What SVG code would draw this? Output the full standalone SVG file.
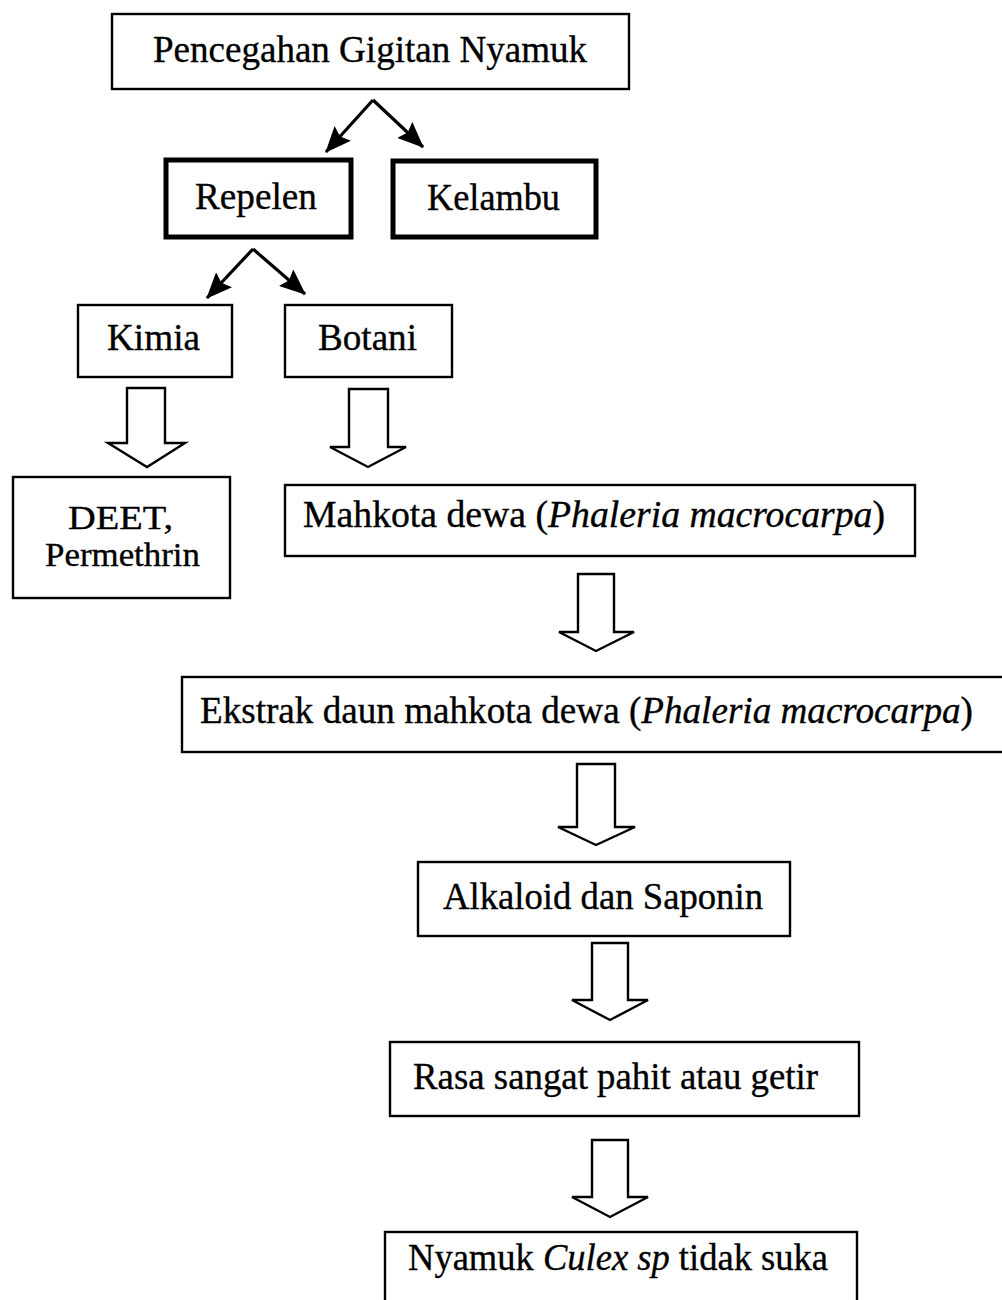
<svg xmlns="http://www.w3.org/2000/svg" width="1002" height="1300" viewBox="0 0 1002 1300">
<style>
  .box { fill: #fff; stroke: #000; stroke-width: 2.4; }
  .thick { fill: #fff; stroke: #000; stroke-width: 5; }
  .t { font-family: "Liberation Serif", "Times New Roman", serif; font-size: 37px; fill: #000; stroke: #000; stroke-width: 0.35; }
  .s { font-size: 34px; }
  .i { font-style: italic; }
  .blk { fill: #fff; stroke: #000; stroke-width: 2.4; stroke-linejoin: miter; }
  .ln { stroke: #000; stroke-width: 3.2; fill: none; }
</style>
<defs>
  <marker id="ah" markerUnits="userSpaceOnUse" markerWidth="26" markerHeight="22" refX="25" refY="11" orient="auto">
    <path d="M0,0 L26,11 L0,22 L4,11 z" fill="#000"/>
  </marker>
</defs>
<rect width="1002" height="1300" fill="#fff"/>

<g id="connectors">
  <line class="ln" x1="373" y1="100" x2="326" y2="152" marker-end="url(#ah)"/>
  <line class="ln" x1="373" y1="100" x2="423" y2="147" marker-end="url(#ah)"/>
  <line class="ln" x1="253" y1="249" x2="207" y2="298" marker-end="url(#ah)"/>
  <line class="ln" x1="253" y1="249" x2="305" y2="294" marker-end="url(#ah)"/>
  <polygon class="blk" points="127,388 165,388 165,443 185,443 147,467 108,443 127,443"/>
  <polygon class="blk" points="349,389 388,389 388,447 406,447 368,467 330,447 349,447"/>
  <polygon class="blk" points="578,574 614,574 614,632 634,632 596,651 559,632 578,632"/>
  <polygon class="blk" points="577,764 615,764 615,827 635,827 596,845 558,827 577,827"/>
  <polygon class="blk" points="592,943 628,943 628,1000 648,1000 610,1020 572,1000 592,1000"/>
  <polygon class="blk" points="592,1140 628,1140 628,1197 648,1197 610,1217 572,1197 592,1197"/>
</g>

<g id="n-pencegahan">
  <rect class="box" x="112" y="14" width="517" height="75"/>
  <text class="t" x="153" y="62" textLength="434" lengthAdjust="spacingAndGlyphs">Pencegahan Gigitan Nyamuk</text>
</g>
<g id="n-repelen">
  <rect class="thick" x="166" y="160" width="185" height="77"/>
  <text class="t" x="195" y="209" textLength="122" lengthAdjust="spacingAndGlyphs">Repelen</text>
</g>
<g id="n-kelambu">
  <rect class="thick" x="393" y="161" width="203" height="76"/>
  <text class="t" x="427" y="210" textLength="133" lengthAdjust="spacingAndGlyphs">Kelambu</text>
</g>
<g id="n-kimia">
  <rect class="box" x="78" y="305" width="154" height="72"/>
  <text class="t" x="107" y="350" textLength="93" lengthAdjust="spacingAndGlyphs">Kimia</text>
</g>
<g id="n-botani">
  <rect class="box" x="285" y="305" width="167" height="72"/>
  <text class="t" x="318" y="350" textLength="99" lengthAdjust="spacingAndGlyphs">Botani</text>
</g>
<g id="n-deet">
  <rect class="box" x="13" y="477" width="217" height="121"/>
  <text class="t s" x="68" y="529" textLength="105" lengthAdjust="spacingAndGlyphs">DEET,</text>
  <text class="t s" x="45" y="566" textLength="155" lengthAdjust="spacingAndGlyphs">Permethrin</text>
</g>
<g id="n-mahkota">
  <rect class="box" x="285" y="485" width="630" height="71"/>
  <text class="t" x="303" y="527" textLength="582" lengthAdjust="spacingAndGlyphs">Mahkota dewa (<tspan class="i">Phaleria macrocarpa</tspan>)</text>
</g>
<g id="n-ekstrak">
  <rect class="box" x="182" y="677" width="824" height="75"/>
  <text class="t" x="200" y="723" textLength="773" lengthAdjust="spacingAndGlyphs">Ekstrak daun mahkota dewa (<tspan class="i">Phaleria macrocarpa</tspan>)</text>
</g>
<g id="n-alkaloid">
  <rect class="box" x="418" y="862" width="372" height="74"/>
  <text class="t" x="443" y="909" textLength="320" lengthAdjust="spacingAndGlyphs">Alkaloid dan Saponin</text>
</g>
<g id="n-rasa">
  <rect class="box" x="390" y="1042" width="469" height="74"/>
  <text class="t" x="413" y="1089" textLength="405" lengthAdjust="spacingAndGlyphs">Rasa sangat pahit atau getir</text>
</g>
<g id="n-nyamuk">
  <rect class="box" x="385" y="1232" width="472" height="80"/>
  <text class="t" x="408" y="1270" textLength="420" lengthAdjust="spacingAndGlyphs">Nyamuk <tspan class="i">Culex sp</tspan> tidak suka</text>
</g>
</svg>
